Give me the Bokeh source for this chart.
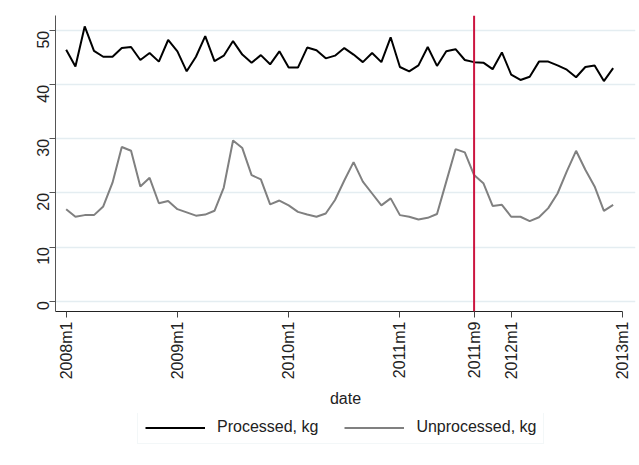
import math
from bokeh.plotting import figure
from bokeh.layouts import column
from bokeh.models import FixedTicker, Span, Legend, LegendItem, ColumnDataSource
from bokeh.embed import file_html
from bokeh.resources import INLINE

# month index: 0 = 2008m1 ... 59 = 2012m12
months = list(range(60))
processed = [46.5, 43.4, 50.8, 46.3, 45.2, 45.2, 46.8, 47.0, 44.6, 45.9, 44.3, 48.3,
             46.2, 42.5, 45.2, 49.0, 44.4, 45.4, 48.1, 45.6, 44.1, 45.5, 43.8, 46.2,
             43.2, 43.2, 46.9, 46.4, 44.9, 45.4, 46.8, 45.6, 44.2, 45.9, 44.2, 48.8,
             43.3, 42.5, 43.6, 47.0, 43.5, 46.2, 46.6, 44.6, 44.2, 44.1, 42.9, 46.0,
             41.9, 40.9, 41.5, 44.3, 44.3, 43.6, 42.8, 41.4, 43.3, 43.6, 40.7, 43.1]
unprocessed = [17.0, 15.6, 15.9, 15.9, 17.5, 21.9, 28.5, 27.8, 21.2, 22.8, 18.1, 18.5,
               17.0, 16.4, 15.8, 16.0, 16.7, 21.0, 29.7, 28.3, 23.3, 22.5, 17.9, 18.6,
               17.7, 16.5, 16.0, 15.6, 16.2, 18.7, 22.3, 25.7, 22.1, 19.9, 17.7, 19.0,
               15.9, 15.6, 15.1, 15.4, 16.1, 22.1, 28.1, 27.5, 23.3, 21.8, 17.6, 17.8,
               15.6, 15.6, 14.8, 15.5, 17.2, 19.9, 24.0, 27.8, 24.3, 21.2, 16.7, 17.8]
tick_months = [0, 12, 24, 36, 44, 48, 60]
tick_labels = ["2008m1", "2009m1", "2010m1", "2011m1", "2011m9", "2012m1", "2013m1"]
y_ticks = [0, 10, 20, 30, 40, 50]
event_month = 44  # 2011m9
series_names = ["Processed, kg", "Unprocessed, kg"]
series_colors = ["#000000", "#808080"]

FONT = "Liberation Sans"
TXT = "#222222"

p = figure(width=639, height=413, output_backend="svg", toolbar_location=None,
           x_range=(-1.15, 61.41), y_range=(-1.93, 52.83),
           min_border_left=55, min_border_top=15, min_border_right=4, min_border_bottom=102)
p.outline_line_color = None
p.background_fill_color = "white"
p.border_fill_color = "white"

src = ColumnDataSource(dict(m=months, proc=processed, unproc=unprocessed))
p.line("m", "proc", source=src, line_color=series_colors[0], line_width=2)
p.line("m", "unproc", source=src, line_color=series_colors[1], line_width=2)

p.add_layout(Span(location=event_month, dimension="height", line_color="#cc1540", line_width=2))

# x axis
xa = p.xaxis[0]
xa.ticker = FixedTicker(ticks=tick_months)
xa.major_label_overrides = {m: l for m, l in zip(tick_months, tick_labels)}
xa.major_label_orientation = math.pi / 2
xa.minor_tick_line_color = None
xa.major_tick_in = 0
xa.major_tick_out = 6
xa.major_label_standoff = 4
xa.bounds = (-1.15, 60)
xa.axis_label = "date"
xa.axis_label_standoff = 8
xa.axis_label_text_font = FONT
xa.axis_label_text_font_style = "normal"
xa.axis_label_text_font_size = "16px"
xa.axis_label_text_color = TXT
xa.major_label_text_font = FONT
xa.major_label_text_font_size = "16px"
xa.major_label_text_color = TXT
xa.axis_line_color = "#222222"
xa.major_tick_line_color = "#444444"

# y axis
ya = p.yaxis[0]
ya.ticker = FixedTicker(ticks=y_ticks)
ya.major_label_orientation = math.pi / 2
ya.minor_tick_line_color = None
ya.major_tick_in = 0
ya.major_tick_out = 6
ya.major_label_standoff = 6
ya.major_label_text_font = FONT
ya.major_label_text_font_size = "16px"
ya.major_label_text_color = TXT
ya.axis_line_color = "#555555"
ya.major_tick_line_color = "#555555"

p.xgrid.grid_line_color = None
p.ygrid.ticker = FixedTicker(ticks=y_ticks)
p.ygrid.grid_line_color = "#e4edf1"
p.ygrid.grid_line_width = 1.5

# legend strip below the chart (series drawn out of view; only the legend shows)
LG_H = 44
lg = figure(width=639, height=LG_H, output_backend="svg", toolbar_location=None,
            x_axis_location=None, y_axis_location=None,
            x_range=(-1.15, 61.41), y_range=(1000, 1001),
            min_border_left=55, min_border_top=0, min_border_right=4, min_border_bottom=0)
lg.outline_line_color = None
lg.xgrid.grid_line_color = None
lg.ygrid.grid_line_color = None
k1 = lg.line("m", "proc", source=src, line_color=series_colors[0], line_width=2)
k2 = lg.line("m", "unproc", source=src, line_color=series_colors[1], line_width=2)
legend = Legend(items=[LegendItem(label=series_names[0], renderers=[k1]),
                       LegendItem(label=series_names[1], renderers=[k2])],
                orientation="horizontal", location=(82, LG_H - 31),
                label_text_font=FONT, label_text_font_size="16px", label_text_color=TXT,
                glyph_width=60, glyph_height=17, label_height=17, label_standoff=12, spacing=26,
                padding=7, margin=0, border_line_color="#e8eff2", border_line_width=1,
                background_fill_color="white")
lg.add_layout(legend, "center")

layout = column(p, lg, spacing=0)
open("out.html", "w").write(file_html(layout, INLINE))
